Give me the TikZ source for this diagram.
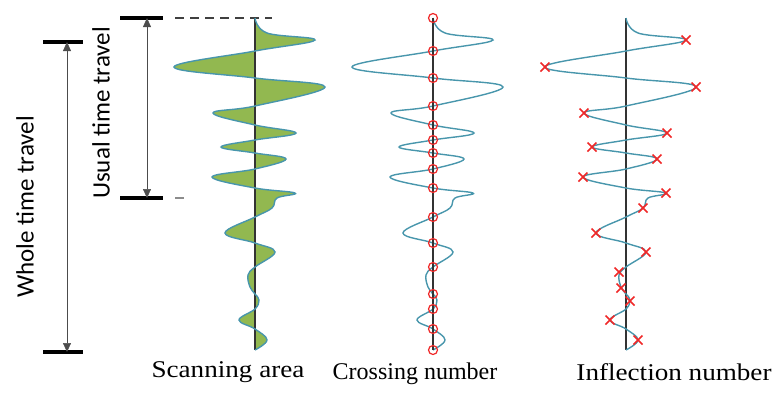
\documentclass[tikz,border=0pt]{standalone}
\usepackage{fontspec}
\setmainfont{Liberation Serif}
\newfontfamily\calib{Carlito}
\usetikzlibrary{arrows.meta}

\definecolor{wavegreen}{RGB}{146,184,80}
\definecolor{tealtrace}{RGB}{72,150,172}
\definecolor{markred}{RGB}{240,40,40}

\tikzset{
  axisline/.style={line width=1.4pt, black!80},
  traceline/.style={line width=1.4pt, tealtrace},
  barline/.style={line width=3.6pt, black},
  spanarrow/.style={line width=0.5pt, black!70, {Triangle[width=8pt,length=9pt]}-{Triangle[width=8pt,length=9pt]}},
  guide/.style={line width=1.2pt, black!75, dash pattern={on 9pt off 6pt}},
  crossmark/.style={draw=markred, line width=1.2pt, circle, inner sep=0pt, minimum size=9pt},
  inflmark/.style={markred, line width=1.5pt},
  sanslabel/.style={font=\calib\fontsize{25}{28}\selectfont, rotate=90},
  panellabel/.style={font=\fontsize{24}{28}\selectfont}
}

% the trace, relative to the axis
\newcommand{\wavepts}{(0,18) (12,33) (60,40) (0,51) (-81,67) (0,78) (70,87) (0,106) (-42,113) (0,125) (41,133) (0,140) (-34,147) (0,153) (31,159) (0,169) (-43,177) (0,188) (40,193) (22,198) (17,208) (0,217) (-30,233) (0,243) (20,252) (0,267) (-7,275) (-5,287) (0,294) (4,300) (0,309) (-16,320) (0,329) (12,340) (0,350)}

\begin{document}
\begin{tikzpicture}[x=1pt,y=-1pt]
\useasboundingbox (0,0) rectangle (777,392);

% spans on the left
\coordinate (utTop) at (147,18);
\coordinate (utBot) at (147,198);
\coordinate (wtTop) at (67,42);
\coordinate (wtBot) at (67,352);
\draw[barline] (120,18) -- (163,18);
\draw[barline] (120,198) -- (163,198);
\draw[barline] (43,42) -- (83,42);
\draw[barline] (43,352) -- (83,352);
\draw[spanarrow] (utTop) -- (utBot);
\draw[spanarrow] (wtTop) -- (wtBot);
\draw[guide] (175,18) -- (272,18);
\draw[line width=1.2pt, black!45] (175,198) -- (184,198);
\node[sanslabel] (usual) at (101,113) {Usual time travel};
\node[sanslabel] (whole) at (25,207) {Whole time travel};

% scanning area
\begin{scope}[xshift=255pt]
  \fill[wavegreen] plot[smooth, tension=0.65] coordinates {\wavepts} -- cycle;
  \draw[axisline] (0,18) -- (0,350);
  \draw[traceline] plot[smooth, tension=0.65] coordinates {\wavepts};
\end{scope}

% crossing number
\begin{scope}[xshift=433pt]
  \draw[traceline] plot[smooth, tension=0.65] coordinates {\wavepts};
  \draw[axisline] (0,18) -- (0,350);
  \foreach \yy [count=\i] in {18,51,78,106,125,140,153,169,188,217,243,267,294,309,329,350}
    \node[crossmark] (c\i) at (0,\yy) {};
\end{scope}

% inflection number
\begin{scope}[xshift=626pt]
  \draw[axisline] (0,18) -- (0,350);
  \draw[traceline] plot[smooth, tension=0.65] coordinates {\wavepts};
  \foreach \xx/\yy in {60/40,-81/67,70/87,-42/113,41/133,-34/147,31/159,-43/177,40/193,17/208,-30/233,20/252,-7/272,-5/288,4/301,-16/320,12/340}
    \draw[inflmark] (\xx-4.5,\yy-4.5) -- (\xx+4.5,\yy+4.5) (\xx-4.5,\yy+4.5) -- (\xx+4.5,\yy-4.5);
\end{scope}

% panel names
\node[panellabel, xscale=1.13] (scan) at (228,372) {Scanning area};
\node[panellabel] (cross) at (415,374) {Crossing number};
\node[panellabel, xscale=1.13] (infl) at (674,372) {Inflection number};
\end{tikzpicture}
\end{document}
